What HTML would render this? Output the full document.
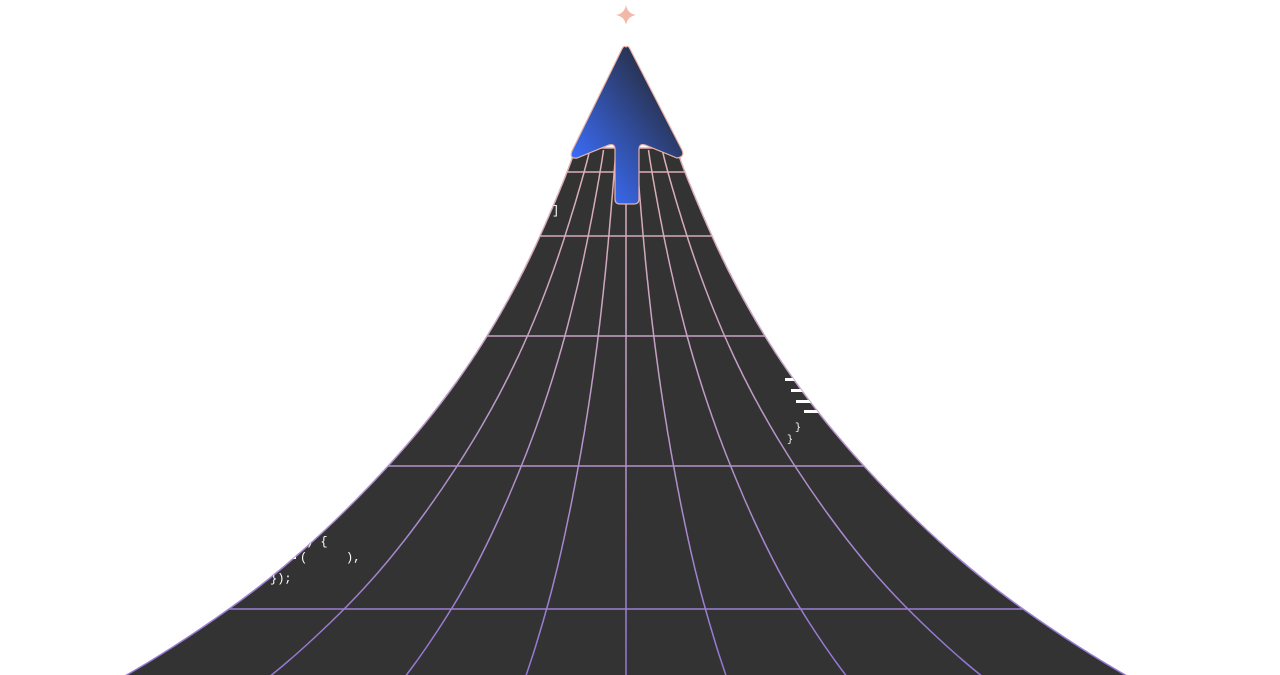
<!DOCTYPE html>
<html><head><meta charset="utf-8"><style>
html,body{margin:0;padding:0;background:#fff;width:1280px;height:675px;overflow:hidden}
svg{display:block}
text{font-family:"Liberation Mono",monospace;fill:#fff}
</style></head><body>
<svg id="s" width="1280" height="675" viewBox="0 0 1280 675" xmlns="http://www.w3.org/2000/svg">
<defs>
<linearGradient id="g" gradientUnits="userSpaceOnUse" x1="0" y1="48" x2="0" y2="675">
<stop offset="0" stop-color="#ecb8aa"/><stop offset="0.45" stop-color="#c9a3c4"/><stop offset="1" stop-color="#9276d6"/>
</linearGradient>
<linearGradient id="ab" x1="0" y1="1" x2="1" y2="0">
<stop offset="0.15" stop-color="#3a6cf8"/><stop offset="0.85" stop-color="#262a38"/>
</linearGradient>
<clipPath id="cp"><path id="cpp" d=""/></clipPath>
</defs>
<path id="road" fill="#333333" stroke="url(#g)" stroke-width="1.5" d=""/>
<g id="grid" stroke="url(#g)" stroke-width="1.5" fill="none"></g>
<g clip-path="url(#cp)">
<text x="552" y="214" font-size="12">]</text>
<rect x="785" y="378" width="14" height="3" fill="#fff"/>
<rect x="791" y="389" width="14" height="3" fill="#fff"/>
<rect x="796" y="400" width="16" height="3" fill="#fff"/>
<rect x="804" y="410" width="16" height="3" fill="#fff"/>
<text x="795" y="430" font-size="10">}</text>
<text x="787" y="442" font-size="10">}</text>
<text x="306" y="545" font-size="12">) {</text>
<rect x="282" y="556" width="14" height="3" fill="#fff"/>
<text x="300" y="561" font-size="12">(</text>
<text x="346" y="561" font-size="12">),</text>
<text x="270" y="582" font-size="12">});</text>
</g>
<path d="M626 47 Q628 45 630 49 L682 150 Q685 157 677 158 L645 145 Q639 143 639 150 L639 199 Q639 204 634 204 L620 204 Q615 204 615 199 L615 150 Q615 143 609 145 L577 158 Q569 159 572 151 L622 49 Q624 45 626 47 Z" fill="url(#ab)" stroke="#e9b2a4" stroke-width="1.2"/>
<path d="M626 5 Q627.5 13.5 636 15 Q627.5 16.5 626 25 Q624.5 16.5 616 15 Q624.5 13.5 626 5 Z" fill="#f2b9a8"/>
</svg>
<script>
var P=[[46,2.9],[100,3.55],[172,4.077],[236,4.454],[336,4.934],[466,5.472],[609,5.984],[675,6.213],[720,6.37]];
function lw(y){for(var i=0;i<P.length-1;i++){var a=P[i],b=P[i+1];if(y<=b[0]){var t=(y-a[0])/(b[0]-a[0]);
var m0=i>0?(P[i+1][1]-P[i-1][1])/(P[i+1][0]-P[i-1][0]):(b[1]-a[1])/(b[0]-a[0]);
var m1=i<P.length-2?(P[i+2][1]-P[i][1])/(P[i+2][0]-P[i][0]):(b[1]-a[1])/(b[0]-a[0]);
var h=b[0]-a[0],t2=t*t,t3=t2*t;
return (2*t3-3*t2+1)*a[1]+(t3-2*t2+t)*h*m0+(-2*t3+3*t2)*b[1]+(t3-t2)*h*m1;}}return 6.37;}
function w(y){return Math.exp(lw(y));}
var cx=626,L=[],R=[];
for(var y=148;y<=678;y+=2){L.push((cx-w(y)).toFixed(1)+" "+y);R.unshift((cx+w(y)).toFixed(1)+" "+y);}
var d="M"+L.join(" L")+" L"+R.join(" L")+" Z";
document.getElementById("road").setAttribute("d",d);
document.getElementById("cpp").setAttribute("d",d);
var g=document.getElementById("grid"),s="";
[0.2,0.44,0.71].forEach(function(f){[-1,1].forEach(function(sg){var pts=[];for(var y=150;y<=678;y+=3)pts.push((cx+sg*f*w(y)).toFixed(1)+" "+y);s+='<path d="M'+pts.join(" L")+'"/>';});});
s+='<path d="M626 150 L626 678"/>';
[172,236,336,466,609].forEach(function(y){var ww=w(y);s+='<path d="M'+(cx-ww)+' '+y+' L'+(cx+ww)+' '+y+'"/>';});
g.innerHTML=s;
</script>
</body></html>
